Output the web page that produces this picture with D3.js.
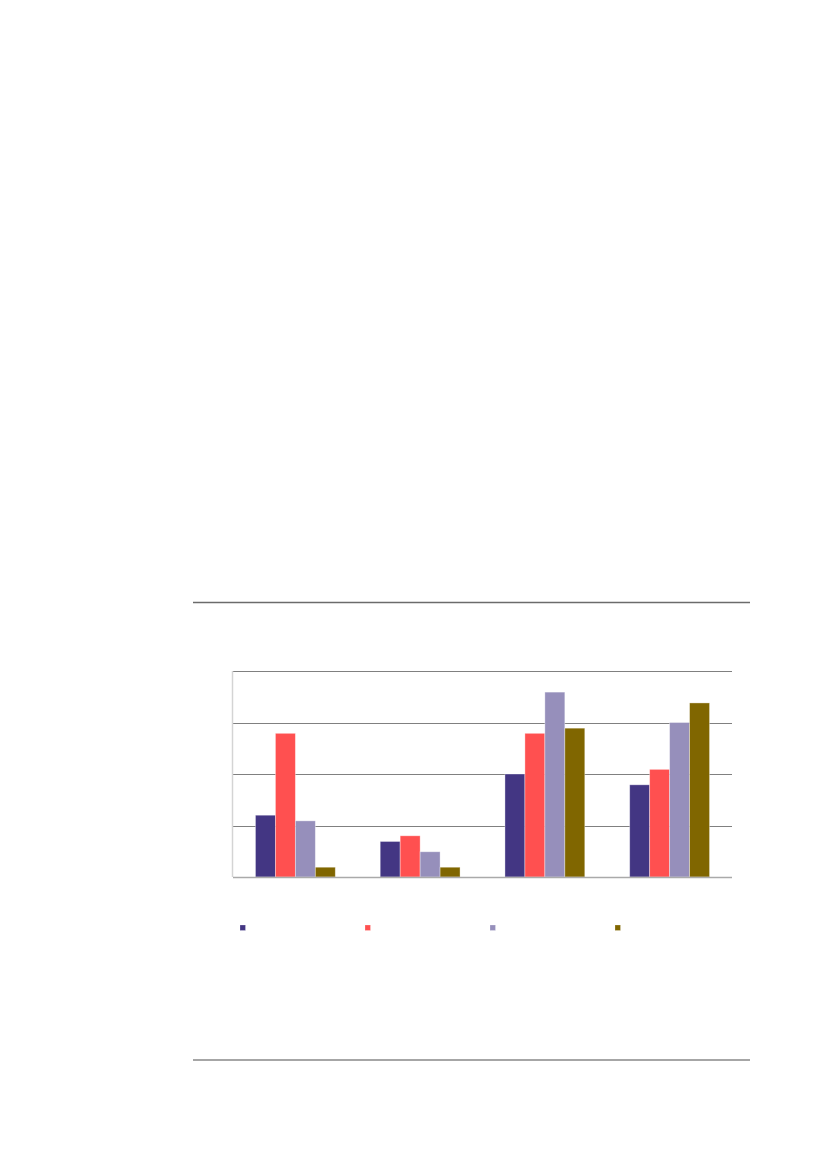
<!DOCTYPE html>
<html>
<head>
<meta charset="utf-8">
<script src="https://cdn.jsdelivr.net/npm/d3@7"></script>
<style>
  html, body { margin: 0; padding: 0; background: #ffffff; }
  svg { display: block; }
</style>
</head>
<body>
<svg id="chart" width="827" height="1169"></svg>
<script>
// ---- data (gridline step = 10) ----
const categories = ["G1", "G2", "G3", "G4"];
const seriesNames = ["S1", "S2", "S3", "S4"];
const seriesColors = ["#433683", "#ff5050", "#968fbb", "#806600"];
const s1Values = [12.0, 6.9, 20.0, 17.9];
const s2Values = [27.9, 8.0, 27.9, 20.9];
const s3Values = [10.9, 4.9, 35.9, 30.0];
const s4Values = [1.9, 1.9, 28.9, 33.8];
const yTicks = [0, 10, 20, 30, 40];

(function () {
  const seriesValues = [s1Values, s2Values, s3Values, s4Values];
  const rows = categories.map((c, i) => ({
    cat: c,
    vals: seriesNames.map((s, j) => ({ s, j, v: seriesValues[j][i] }))
  }));

  const svg = d3.select("#chart");

  // page rules
  svg.append("line").attr("x1", 193).attr("x2", 750).attr("y1", 602.5).attr("y2", 602.5)
    .attr("stroke", "#6b6b6b").attr("stroke-width", 1.3);
  svg.append("line").attr("x1", 193).attr("x2", 750).attr("y1", 1060).attr("y2", 1060)
    .attr("stroke", "#a6a6a6").attr("stroke-width", 2);

  // plot area
  const pLeft = 233, pRight = 732, pTop = 671, pBottom = 877;

  const x0 = d3.scaleBand().domain(categories).range([pLeft, pRight])
    .paddingInner(0.36).paddingOuter(0.18);
  const x1 = d3.scaleBand().domain(seriesNames).range([0, x0.bandwidth()]).padding(0);
  const y = d3.scaleLinear().domain([0, 40]).range([pBottom, pTop]);

  // gridlines
  svg.append("g").selectAll("line").data(yTicks.filter(t => t > 0)).join("line")
    .attr("x1", pLeft).attr("x2", pRight)
    .attr("y1", d => Math.round(y(d)) + 0.5).attr("y2", d => Math.round(y(d)) + 0.5)
    .attr("stroke", "#808080").attr("stroke-width", 1.2);

  // left axis line
  svg.append("line").attr("x1", pLeft - 0.5).attr("x2", pLeft - 0.5).attr("y1", pTop).attr("y2", pBottom)
    .attr("stroke", "#d4d4d4").attr("stroke-width", 1.5);

  // bars
  const g = svg.append("g").selectAll("g").data(rows).join("g")
    .attr("transform", d => `translate(${x0(d.cat)},0)`);
  g.selectAll("rect").data(d => d.vals).join("rect")
    .attr("x", d => x1(d.s))
    .attr("width", x1.bandwidth())
    .attr("y", d => y(d.v))
    .attr("height", d => y(0) - y(d.v))
    .attr("fill", d => seriesColors[d.j])
    .attr("stroke", "rgba(255,255,255,0.45)")
    .attr("stroke-width", 0.8);

  // bottom axis line
  svg.append("line").attr("x1", pLeft).attr("x2", pRight).attr("y1", pBottom + 0.5).attr("y2", pBottom + 0.5)
    .attr("stroke", "#aaaaaa").attr("stroke-width", 1.3);

  // legend markers
  const legendX = d3.scalePoint().domain(seriesNames).range([243, 618]);
  svg.append("g").selectAll("rect").data(seriesNames).join("rect")
    .attr("x", d => legendX(d) - 3)
    .attr("y", 925)
    .attr("width", 5.5).attr("height", 5.5)
    .attr("fill", (d, i) => seriesColors[i])
    .attr("stroke", "rgba(255,255,255,0.4)").attr("stroke-width", 0.6);
})();
</script>
</body>
</html>
